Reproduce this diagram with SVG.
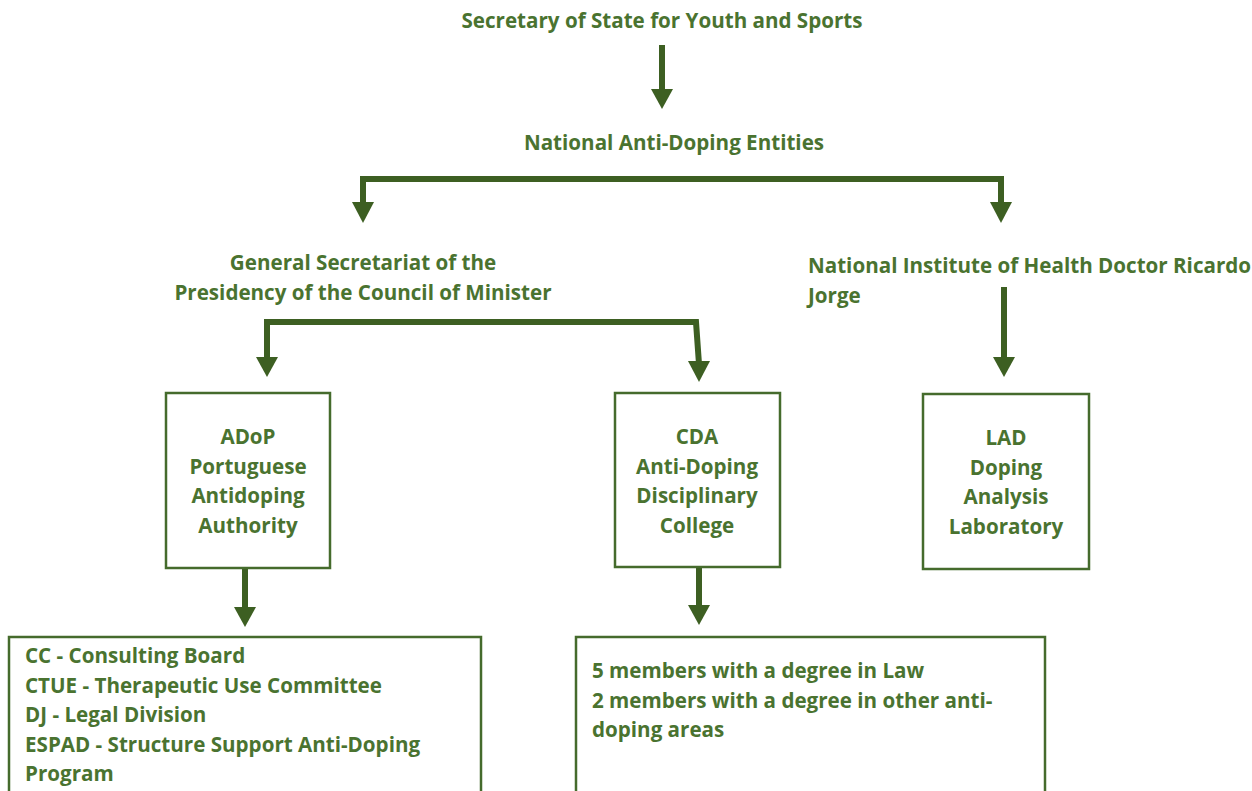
<svg xmlns="http://www.w3.org/2000/svg" width="1252" height="791" viewBox="0 0 1252 791">
<style>
.t{font-family:"Open Sans","Liberation Sans",sans-serif;font-weight:700;font-size:20.6px;fill:#4a7330}
.c{text-anchor:middle}
.box{fill:#fff;stroke:#456b2c;stroke-width:2.5}
.ln{stroke:#3d5f22;stroke-width:6;fill:none}
.hd{fill:#3d5f22}
</style>
<rect width="1252" height="791" fill="#fff"/>
<g id="connectors">
<line class="ln" x1="662" y1="45" x2="662" y2="92"/>
<polygon class="hd" points="651,89 673,89 662,109"/>
<polyline class="ln" points="363,205 363,179 1001,179 1001,205"/>
<polygon class="hd" points="352,202 374,202 363,223"/>
<polygon class="hd" points="990,202 1012,202 1001,223"/>
<polyline class="ln" points="267,360 267,322 696,322 699,364"/>
<polygon class="hd" points="256,357 278,357 267,377"/>
<polygon class="hd" points="688,361 710,361 699,382"/>
<line class="ln" x1="1004" y1="287" x2="1004" y2="360"/>
<polygon class="hd" points="993,357 1015,357 1004,377"/>
<line class="ln" x1="245" y1="569" x2="245" y2="610"/>
<polygon class="hd" points="234,607 256,607 245,627"/>
<line class="ln" x1="699" y1="568" x2="699" y2="608"/>
<polygon class="hd" points="688,605 710,605 699,625"/>
</g>
<g id="secretary"><text class="t c" x="662" y="28">Secretary of State for Youth and Sports</text></g>
<g id="entities"><text class="t c" x="674" y="150">National Anti-Doping Entities</text></g>
<g id="general"><text class="t c" x="363" y="270">General Secretariat of the</text><text class="t c" x="363" y="300">Presidency of the Council of Minister</text></g>
<g id="nih"><text class="t" x="808" y="273">National Institute of Health Doctor Ricardo</text><text class="t" x="808" y="303">Jorge</text></g>
<g id="adop"><rect class="box" x="166" y="393" width="164" height="175"/>
<text class="t c" x="248" y="444">ADoP</text><text class="t c" x="248" y="474">Portuguese</text><text class="t c" x="248" y="503">Antidoping</text><text class="t c" x="248" y="533">Authority</text></g>
<g id="cda"><rect class="box" x="615" y="393" width="165" height="174"/>
<text class="t c" x="697" y="444">CDA</text><text class="t c" x="697" y="474">Anti-Doping</text><text class="t c" x="697" y="503">Disciplinary</text><text class="t c" x="697" y="533">College</text></g>
<g id="lad"><rect class="box" x="923" y="394" width="166" height="175"/>
<text class="t c" x="1006" y="445">LAD</text><text class="t c" x="1006" y="475">Doping</text><text class="t c" x="1006" y="504">Analysis</text><text class="t c" x="1006" y="534">Laboratory</text></g>
<g id="adop-units"><rect class="box" x="9" y="637" width="472" height="170"/>
<text class="t" x="25" y="663">CC - Consulting Board</text><text class="t" x="25" y="693">CTUE - Therapeutic Use Committee</text><text class="t" x="25" y="722">DJ - Legal Division</text><text class="t" x="25" y="752">ESPAD - Structure Support Anti-Doping</text><text class="t" x="25" y="781">Program</text></g>
<g id="cda-members"><rect class="box" x="576" y="637" width="469" height="170"/>
<text class="t" x="592" y="678">5 members with a degree in Law</text><text class="t" x="592" y="708">2 members with a degree in other anti-</text><text class="t" x="592" y="737">doping areas</text></g>
</svg>
